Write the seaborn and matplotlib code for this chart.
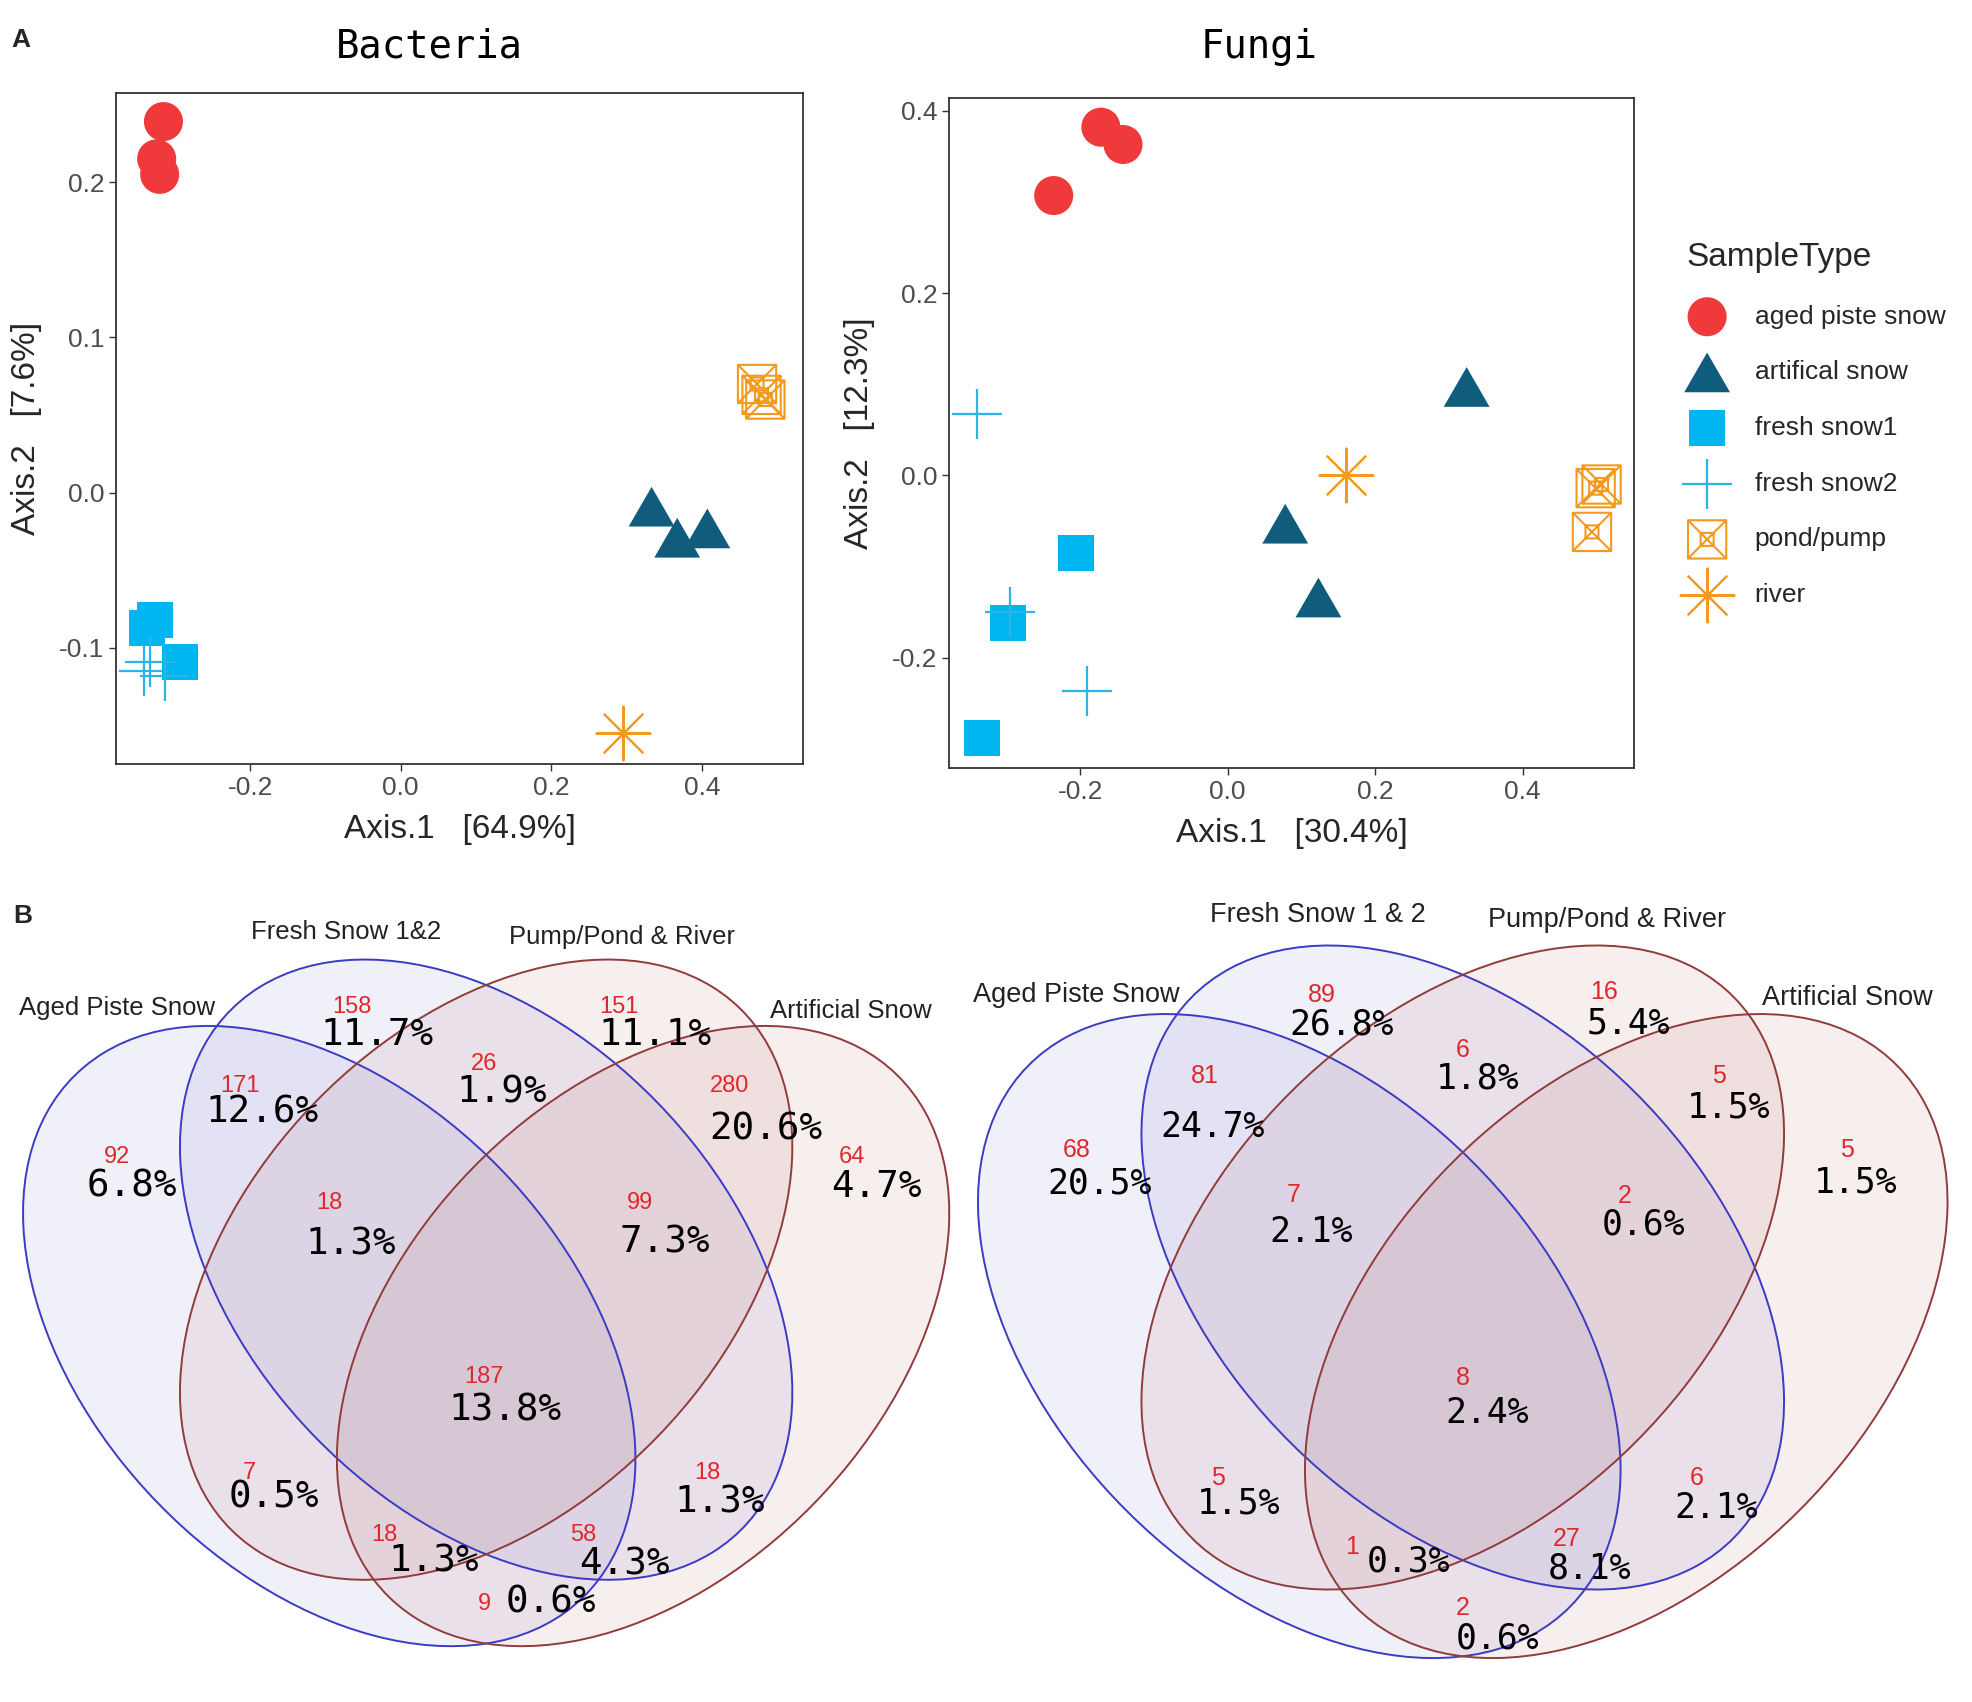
import matplotlib
matplotlib.use("Agg")
import matplotlib.pyplot as plt
from matplotlib.patches import Ellipse
from matplotlib.path import Path
import pandas as pd
import seaborn as sns

sns.set_theme(style="white")
plt.rcParams["font.family"] = ["Liberation Sans", "DejaVu Sans"]
plt.rcParams["axes.unicode_minus"] = False

# ---------------- PCoA data ----------------
sample_types = ["aged piste snow", "artifical snow", "fresh snow1",
                "fresh snow2", "pond/pump", "river"]

bac_type = ["aged piste snow"] * 3 + ["artifical snow"] * 3 + ["fresh snow1"] * 3 \
    + ["fresh snow2"] * 3 + ["pond/pump"] * 3 + ["river"]
bac_x = [-0.315, -0.324, -0.320, 0.333, 0.367, 0.407, -0.326, -0.337, -0.293,
         -0.333, -0.313, -0.341, 0.473, 0.484, 0.479, 0.295]
bac_y = [0.239, 0.215, 0.205, -0.009, -0.029, -0.023, -0.082, -0.087, -0.109,
         -0.109, -0.118, -0.115, 0.070, 0.060, 0.063, -0.155]

fun_type = bac_type
fun_x = [-0.172, -0.142, -0.236, 0.324, 0.078, 0.123, -0.206, -0.298, -0.333,
         -0.340, -0.295, -0.191, 0.499, 0.507, 0.494, 0.161]
fun_y = [0.382, 0.363, 0.307, 0.097, -0.053, -0.134, -0.085, -0.162, -0.288,
         0.067, -0.150, -0.236, -0.014, -0.010, -0.062, 0.000]

bac_df = pd.DataFrame({"x": bac_x, "y": bac_y, "SampleType": bac_type})
fun_df = pd.DataFrame({"x": fun_x, "y": fun_y, "SampleType": fun_type})

# ---------------- Venn data ----------------
set_names_bac = ["Aged Piste Snow", "Fresh Snow 1&2", "Pump/Pond & River", "Artificial Snow"]
set_names_fun = ["Aged Piste Snow", "Fresh Snow 1 & 2", "Pump/Pond & River", "Artificial Snow"]
regions = ["A", "B", "C", "D", "AB", "BC", "CD", "ABC", "BCD", "ABCD",
           "AC", "BD", "ACD", "ABD", "AD"]
bac_counts = [92, 158, 151, 64, 171, 26, 280, 18, 99, 187, 7, 18, 18, 58, 9]
bac_pct = ["6.8%", "11.7%", "11.1%", "4.7%", "12.6%", "1.9%", "20.6%", "1.3%",
           "7.3%", "13.8%", "0.5%", "1.3%", "1.3%", "4.3%", "0.6%"]
fun_counts = [68, 89, 16, 5, 81, 6, 5, 7, 2, 8, 5, 6, 1, 27, 2]
fun_pct = ["20.5%", "26.8%", "5.4%", "1.5%", "24.7%", "1.8%", "1.5%", "2.1%",
           "0.6%", "2.4%", "1.5%", "2.1%", "0.3%", "8.1%", "0.6%"]

# ---------------- styles / layout ----------------
W, H = 1972, 1702
fig = plt.figure(figsize=(W / 100, H / 100), dpi=100)


def fig_rect(x0, y0, x1, y1):
    return [x0 / W, 1 - y1 / H, (x1 - x0) / W, (y1 - y0) / H]


tri = Path([(-0.5, -0.433), (0.5, -0.433), (0, 0.433), (-0.5, -0.433)],
           [Path.MOVETO, Path.LINETO, Path.LINETO, Path.CLOSEPOLY])
sq_x = Path([(-.5, -.5), (.5, -.5), (.5, .5), (-.5, .5), (-.5, -.5),
             (-.5, -.5), (.5, .5), (-.5, .5), (.5, -.5),
             (-.17, -.17), (.17, -.17), (.17, .17), (-.17, .17), (-.17, -.17)],
            [Path.MOVETO, Path.LINETO, Path.LINETO, Path.LINETO, Path.CLOSEPOLY,
             Path.MOVETO, Path.LINETO, Path.MOVETO, Path.LINETO,
             Path.MOVETO, Path.LINETO, Path.LINETO, Path.LINETO, Path.CLOSEPOLY])

orange = "#F39A1E"
marker_kws = {
    "aged piste snow": dict(marker="o", s=790, color="#F0393B", edgecolor="none", linewidth=0),
    "artifical snow": dict(marker=tri, s=1090, color="#0F5C7C", edgecolor="none", linewidth=0),
    "fresh snow1": dict(marker="s", s=680, color="#00B6F0", edgecolor="none", linewidth=0),
    "fresh snow2": dict(marker="+", s=1250, color="#2DB4E6", linewidth=1.6),
    "pond/pump": dict(marker=sq_x, s=760, color=orange, facecolor="none",
                      edgecolor=orange, linewidth=1.5),
    "river": dict(marker=(8, 2, 0), s=1500, color=orange, linewidth=1.5),
}


def draw_ord(ax, df, xlim, ylim, xlabel, ylabel, yticks):
    for st in sample_types:
        sub = df[df["SampleType"] == st]
        sns.scatterplot(data=sub, x="x", y="y", ax=ax, label=st, legend=False,
                        **marker_kws[st])
    ax.set_xlim(*xlim)
    ax.set_ylim(*ylim)
    ax.set_xticks([-0.2, 0.0, 0.2, 0.4])
    ax.set_yticks(yticks)
    ax.set_xlabel(xlabel, fontsize=24, labelpad=10)
    ax.set_ylabel(ylabel, fontsize=24, labelpad=12)
    for sp in ax.spines.values():
        sp.set_color("#333333")
        sp.set_linewidth(1.3)
    ax.tick_params(direction="out", length=5, width=1, color="#333333",
                   labelsize=19, labelcolor="#4D4D4D", bottom=True, left=True)


ax_b = fig.add_axes(fig_rect(116, 93, 803, 764))
draw_ord(ax_b, bac_df, (-0.378, 0.534), (-0.1747, 0.2574),
         "Axis.1   [64.9%]", "Axis.2   [7.6%]", [-0.1, 0.0, 0.1, 0.2])

ax_f = fig.add_axes(fig_rect(949, 98, 1634, 768))
draw_ord(ax_f, fun_df, (-0.378, 0.551), (-0.321, 0.414),
         "Axis.1   [30.4%]", "Axis.2   [12.3%]", [-0.2, 0.0, 0.2, 0.4])

handles, labels = ax_f.get_legend_handles_labels()
fig.legend(handles, labels, title="SampleType", loc="upper left",
           bbox_to_anchor=(1686 / W, 1 - 242 / H), frameon=False, fontsize=19,
           title_fontsize=24, labelspacing=1.2, handlelength=1.6,
           handletextpad=1.0, borderpad=0, borderaxespad=0, alignment="left")

fig.text(429 / W, 1 - 47 / H, "Bacteria", family="DejaVu Sans Mono", fontsize=28,
         ha="center", va="center", color="black")
fig.text(1259 / W, 1 - 47 / H, "Fungi", family="DejaVu Sans Mono", fontsize=28,
         ha="center", va="center", color="black")
fig.text(21 / W, 1 - 40 / H, "A", fontsize=19, weight="bold", ha="center", va="center")
fig.text(23 / W, 1 - 916 / H, "B", fontsize=19, weight="bold", ha="center", va="center")

# ---------------- Venn diagrams ----------------
fills = [(0.25, 0.25, 0.75, 0.08), (0.25, 0.25, 0.75, 0.08),
         (0.63, 0.19, 0.19, 0.08), (0.63, 0.19, 0.19, 0.08)]
edges = ["#3B3BC4", "#3B3BC4", "#923B3B", "#923B3B"]

venn_panels = [
    dict(rect=fig_rect(0, 860, 960, 1702), names=set_names_bac,
         counts=bac_counts, pct=bac_pct, pct_size=27, cnt_size=17, name_size=18.5,
         centers=[(535, 882), (790, 759), (790, 759), (1045, 882)],
         a=640, b=410, ang=55.0,
         name_pos=[(190, 275), (562, 133), (1010, 142), (1383, 280)],
         cnt_pos=[(190, 550), (572, 272), (1005, 272), (1385, 550), (390, 418),
                  (787, 378), (1185, 418), (535, 635), (1040, 635), (787, 958),
                  (405, 1135), (1150, 1135), (625, 1250), (948, 1250), (787, 1378)],
         pct_pos=[(215, 605), (612, 325), (1065, 325), (1425, 605), (425, 468),
                  (815, 430), (1245, 500), (570, 712), (1080, 708), (820, 1020),
                  (445, 1182), (1170, 1190), (705, 1300), (1015, 1305), (895, 1375)]),
    dict(rect=fig_rect(960, 860, 1972, 1702), names=set_names_fun,
         counts=fun_counts, pct=fun_pct, pct_size=25, cnt_size=18, name_size=19.5,
         centers=[(523, 882), (775, 755), (775, 755), (1027, 882)],
         a=660, b=407, ang=57.1,
         name_pos=[(180, 250), (552, 102), (997, 112), (1368, 255)],
         cnt_pos=[(180, 538), (558, 250), (992, 245), (1368, 538), (378, 400),
                  (775, 352), (1170, 400), (515, 620), (1025, 622), (775, 960),
                  (398, 1145), (1135, 1145), (605, 1272), (935, 1258), (775, 1385)],
         pct_pos=[(215, 600), (588, 305), (1030, 302), (1380, 598), (390, 495),
                  (798, 405), (1185, 458), (542, 690), (1053, 675), (812, 1025),
                  (430, 1192), (1165, 1200), (692, 1300), (970, 1312), (828, 1442)]),
]

for vp in venn_panels:
    ax = fig.add_axes(vp["rect"])
    ax.set_xlim(0, 1560)
    ax.set_ylim(1560, 0)
    ax.axis("off")
    angles = [vp["ang"], vp["ang"], -vp["ang"], -vp["ang"]]
    for (cx, cy), ang, fc in zip(vp["centers"], angles, fills):
        ax.add_patch(Ellipse((cx, cy), 2 * vp["a"], 2 * vp["b"], angle=ang,
                             facecolor=fc, edgecolor="none"))
    for (cx, cy), ang, ec in zip(vp["centers"], angles, edges):
        ax.add_patch(Ellipse((cx, cy), 2 * vp["a"], 2 * vp["b"], angle=ang,
                             facecolor="none", edgecolor=ec, linewidth=1.4))
    for name, (x, y) in zip(vp["names"], vp["name_pos"]):
        ax.text(x, y, name, fontsize=vp["name_size"], color="#222222",
                ha="center", va="center")
    for c, (x, y) in zip(vp["counts"], vp["cnt_pos"]):
        ax.text(x, y, str(c), fontsize=vp["cnt_size"], color="#E0282C",
                ha="center", va="center")
    for p, (x, y) in zip(vp["pct"], vp["pct_pos"]):
        ax.text(x, y, p, fontsize=vp["pct_size"], color="black",
                family="DejaVu Sans Mono", ha="center", va="center")

fig.savefig("out.png", dpi=100)
